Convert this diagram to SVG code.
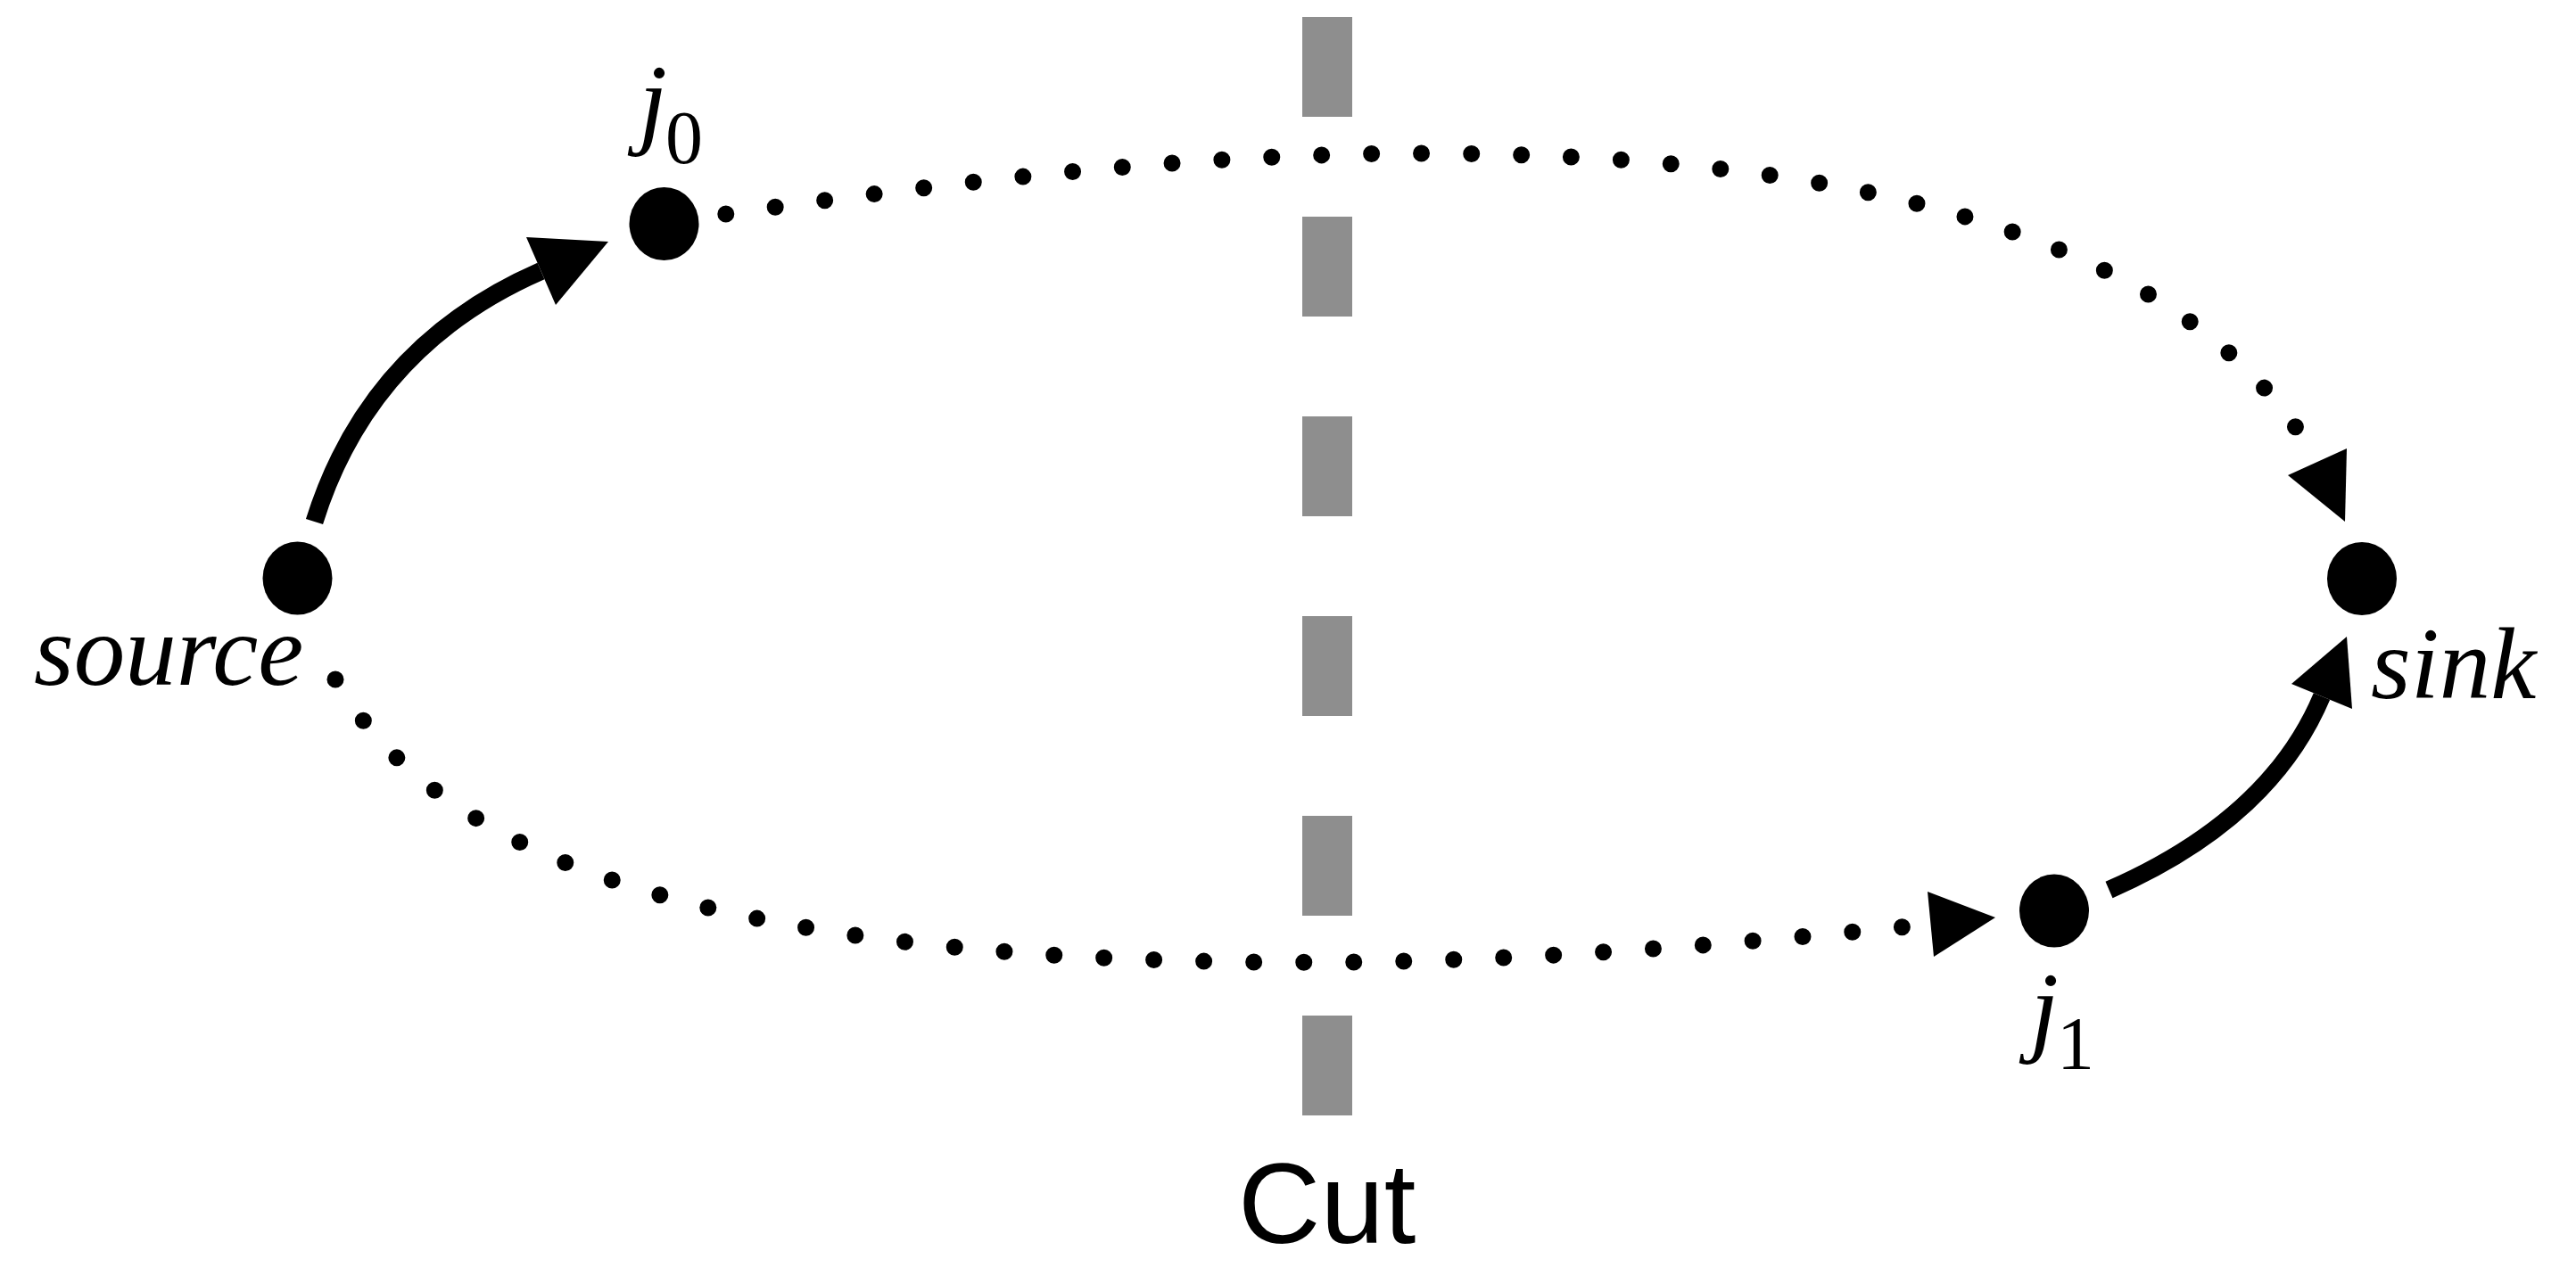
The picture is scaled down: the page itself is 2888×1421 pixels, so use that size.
<svg xmlns="http://www.w3.org/2000/svg" width="2888" height="1421" viewBox="0 0 2888 1421">
<style>
.node{fill:#000}
.solid{fill:none;stroke:#000;stroke-width:20;stroke-linecap:butt}
.dotted{fill:none;stroke:#000;stroke-width:19;stroke-linecap:round;stroke-dasharray:0 1}
.head{fill:#000}
.cut{fill:#8e8e8e}
.lbl{font-family:"Liberation Serif","Times New Roman",serif;font-style:italic;font-size:115px;fill:#000}
.sub{font-style:normal;font-size:84px}
.cutlbl{font-family:"Liberation Sans",Arial,sans-serif;font-size:128px;fill:#000}
</style>
<rect width="2888" height="1421" fill="#fff"/>
<g id="cut-line">
<rect class="cut" x="1460" y="19" width="56" height="112"/>
<rect class="cut" x="1460" y="243" width="56" height="112"/>
<rect class="cut" x="1460" y="467" width="56" height="112"/>
<rect class="cut" x="1460" y="691" width="56" height="112"/>
<rect class="cut" x="1460" y="915" width="56" height="112"/>
<rect class="cut" x="1460" y="1139" width="56" height="112"/>
<text class="cutlbl" x="1388" y="1394">Cut</text>
</g>
<g id="connectors">
<path class="solid" d="M352.5,585 Q414,388 606.5,304"/>
<polygon class="head" points="590,266 682,271 623,342"/>
<path class="solid" d="M2364.5,998 Q2545,919 2603,781"/>
<polygon class="head" points="2631,714 2569,767 2637,795"/>
<path class="dotted" pathLength="33.02" d="M813.8,240 C1071.2,203.9 1334,172 1594,172 C2044,172 2413.4,250.4 2574.1,479.7"/>
<polygon class="head" points="2631,503 2565,533 2629,585"/>
<path class="dotted" pathLength="33.02" d="M376,762 C488.5,956.9 782.5,1079.3 1462.5,1079.3 C1685.5,1079.3 1911.6,1061.8 2133.5,1039.7"/>
<polygon class="head" points="2161,1000 2237,1029 2168,1073"/>
</g>
<g id="node-source">
<ellipse class="node" cx="333.5" cy="648.5" rx="39" ry="41"/>
<text class="lbl" x="38" y="768">source</text>
</g>
<g id="node-j0">
<ellipse class="node" cx="744.5" cy="251" rx="39" ry="41"/>
<text class="lbl" x="716" y="152">j<tspan class="sub" x="746" y="183">0</tspan></text>
</g>
<g id="node-j1">
<ellipse class="node" cx="2303" cy="1021.5" rx="39" ry="41"/>
<text class="lbl" x="2276" y="1169.5">j<tspan class="sub" x="2306" y="1199">1</tspan></text>
</g>
<g id="node-sink">
<ellipse class="node" cx="2648" cy="649" rx="39" ry="41"/>
<text class="lbl" x="2658" y="783">sink</text>
</g>
</svg>
